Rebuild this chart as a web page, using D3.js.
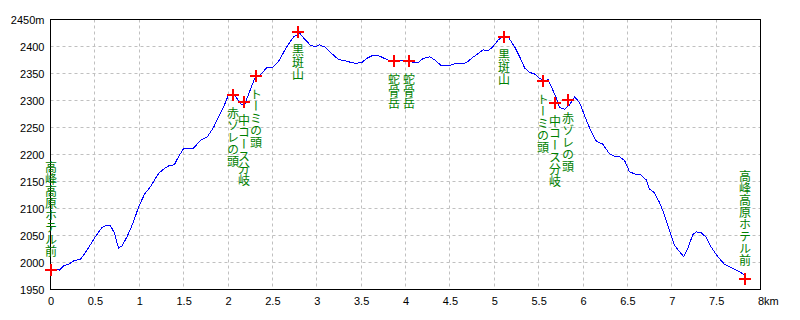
<!DOCTYPE html>
<html>
<head>
<meta charset="utf-8">
<script src="https://cdn.jsdelivr.net/npm/d3@7"></script>
<style>
  body { margin: 0; background: #fff; }
  .tick text { font-family: "Liberation Sans", sans-serif; font-size: 11px; fill: #000; }
  .wp-label { font-family: "Noto Sans CJK JP", sans-serif; font-size: 12px; fill: #008000; writing-mode: vertical-rl; }
</style>
</head>
<body>
<div id="chart"></div>
<script>
// elevation profile (km, m)
var profileKm = [0.000, 0.075, 0.101, 0.150, 0.206, 0.262, 0.337, 0.375, 0.431, 0.506, 0.582, 0.619, 0.675, 0.723, 0.750, 0.768, 0.807, 0.863, 0.930, 0.993,
  1.061, 1.125, 1.218, 1.274, 1.331, 1.395, 1.443, 1.499, 1.612, 1.695, 1.763, 1.837, 1.893, 1.949, 1.999, 2.025, 2.062, 2.118, 2.156, 2.193,
  2.242, 2.306, 2.362, 2.438, 2.505, 2.568, 2.643, 2.700, 2.745, 2.812, 2.857, 2.925, 2.981, 3.029, 3.093, 3.169, 3.243, 3.337, 3.394, 3.431,
  3.506, 3.562, 3.637, 3.712, 3.787, 3.862, 3.937, 4.030, 4.087, 4.143, 4.199, 4.274, 4.331, 4.406, 4.480, 4.556, 4.631, 4.687, 4.743, 4.818,
  4.874, 4.930, 4.987, 5.043, 5.099, 5.155, 5.231, 5.287, 5.343, 5.399, 5.456, 5.512, 5.568, 5.605, 5.643, 5.700, 5.737, 5.793, 5.849, 5.906,
  5.962, 6.037, 6.093, 6.150, 6.224, 6.299, 6.355, 6.412, 6.468, 6.524, 6.600, 6.656, 6.712, 6.749, 6.805, 6.862, 6.918, 6.974, 7.030, 7.087,
  7.135, 7.180, 7.236, 7.274, 7.331, 7.387, 7.443, 7.517, 7.593, 7.668, 7.762, 7.818, 7.837];
var profileElev = [1986, 1987, 1986, 1994, 1997, 2003, 2006, 2014, 2028, 2048, 2065, 2068, 2068, 2054, 2036, 2027, 2031, 2048, 2073, 2103,
  2127, 2140, 2165, 2173, 2179, 2181, 2196, 2211, 2212, 2227, 2232, 2250, 2270, 2287, 2308, 2312, 2312, 2300, 2292, 2295,
  2316, 2343, 2347, 2361, 2362, 2372, 2394, 2409, 2419, 2424, 2415, 2403, 2399, 2403, 2399, 2387, 2376, 2373, 2370, 2369,
  2370, 2378, 2384, 2382, 2376, 2372, 2374, 2375, 2370, 2370, 2378, 2381, 2375, 2364, 2364, 2368, 2368, 2370, 2378, 2387,
  2394, 2392, 2400, 2412, 2418, 2418, 2399, 2381, 2360, 2352, 2349, 2341, 2336, 2339, 2326, 2304, 2287, 2284, 2292, 2307,
  2296, 2264, 2242, 2225, 2219, 2201, 2197, 2196, 2189, 2168, 2163, 2162, 2153, 2136, 2129, 2111, 2088, 2060, 2032, 2020,
  2011, 2026, 2051, 2057, 2055, 2047, 2029, 2011, 1997, 1991, 1983, 1977, 1969];

// waypoints
var waypointNames = ["高峰高原ホテル前", "赤ゾレの頭", "中コース分岐", "トーミの頭", "黒斑山", "蛇骨岳",
  "蛇骨岳", "黒斑山", "トーミの頭", "中コース分岐", "赤ゾレの頭", "高峰高原ホテル前"];
var waypointKm = [0, 2.06, 2.18, 2.31, 2.79, 3.87, 4.04, 5.11, 5.55, 5.69, 5.83, 7.83];
var waypointElev = [1986, 2310, 2298, 2345, 2426, 2373, 2373, 2418, 2337, 2295, 2301, 1969];

// axis ticks
var xTicks = [0, 0.5, 1, 1.5, 2, 2.5, 3, 3.5, 4, 4.5, 5, 5.5, 6, 6.5, 7, 7.5, 8];
var yTicks = [1950, 2000, 2050, 2100, 2150, 2200, 2250, 2300, 2350, 2400, 2450];

var chart_width = 800, chart_height = 320;
var plotLeft = 50.5, plotRight = 760.5, plotTop = 19.5, plotBottom = 289.5;

var svg = d3.select("#chart").append("svg")
  .attr("width", chart_width)
  .attr("height", chart_height);

var x = d3.scaleLinear().domain([0, 8]).range([plotLeft, plotRight]);
var y = d3.scaleLinear().domain([1950, 2450]).range([plotBottom, plotTop]);

// grid
svg.append("g").selectAll("line")
  .data(xTicks.slice(1, -1))
  .enter().append("line")
  .attr("x1", d => Math.floor(x(d)) + 0.5).attr("x2", d => Math.floor(x(d)) + 0.5)
  .attr("y1", plotTop).attr("y2", plotBottom)
  .attr("stroke", "#c0c0c0").attr("stroke-dasharray", "3,3");
svg.append("g").selectAll("line")
  .data(yTicks.slice(1, -1))
  .enter().append("line")
  .attr("x1", plotLeft).attr("x2", plotRight)
  .attr("y1", d => Math.floor(y(d)) + 0.5).attr("y2", d => Math.floor(y(d)) + 0.5)
  .attr("stroke", "#c0c0c0").attr("stroke-dasharray", "3,3");

// axes (labels only)
var xAxis = d3.axisBottom(x).tickValues(xTicks).tickSize(0).tickPadding(8)
  .tickFormat(d => String(d));
var gx = svg.append("g").attr("transform", "translate(0," + plotBottom + ")").call(xAxis);
gx.select(".domain").remove();
gx.selectAll(".tick text")
  .filter(d => d === 8)
  .attr("text-anchor", "start")
  .attr("x", -3)
  .text("8km");

var yAxis = d3.axisLeft(y).tickValues(yTicks).tickSize(0).tickPadding(6)
  .tickFormat(d => d === 2450 ? "2450m" : String(d));
var gy = svg.append("g").attr("transform", "translate(" + plotLeft + ",0)").call(yAxis);
gy.select(".domain").remove();
gx.attr("font-size", null).attr("font-family", null);
gy.attr("font-size", null).attr("font-family", null);

// frame
svg.append("rect")
  .attr("x", plotLeft).attr("y", plotTop)
  .attr("width", plotRight - plotLeft).attr("height", plotBottom - plotTop)
  .attr("fill", "none").attr("stroke", "#000");

// profile line
var line = d3.line()
  .x(d => x(d[0]))
  .y(d => y(d[1]));
svg.append("path")
  .datum(profileKm.map((k, i) => [k, profileElev[i]]))
  .attr("d", line)
  .attr("fill", "none")
  .attr("stroke", "#0000ff")
  .attr("stroke-width", 1)
  .attr("shape-rendering", "crispEdges");

// waypoint markers
var wp = waypointNames.map((n, i) => ({ name: n, km: waypointKm[i], elev: waypointElev[i], end: i === 0 || i === waypointNames.length - 1 }));

var marks = svg.append("g").selectAll("g")
  .data(wp)
  .enter().append("g")
  .attr("transform", d => "translate(" + Math.round(x(d.km)) + "," + Math.round(y(d.elev)) + ")");
marks.append("line")
  .attr("x1", -6).attr("x2", 6).attr("y1", 0).attr("y2", 0)
  .attr("stroke", "#ff0000").attr("stroke-width", 2);
marks.append("line")
  .attr("x1", 0).attr("x2", 0).attr("y1", -6).attr("y2", 6)
  .attr("stroke", "#ff0000").attr("stroke-width", 2);

// vertical labels: below the marker, or above it at the trail ends
marks.append("text")
  .attr("class", "wp-label")
  .attr("x", 0)
  .attr("y", d => d.end ? -13 : 12)
  .attr("text-anchor", d => d.end ? "end" : "start")
  .text(d => d.name);
</script>
</body>
</html>
